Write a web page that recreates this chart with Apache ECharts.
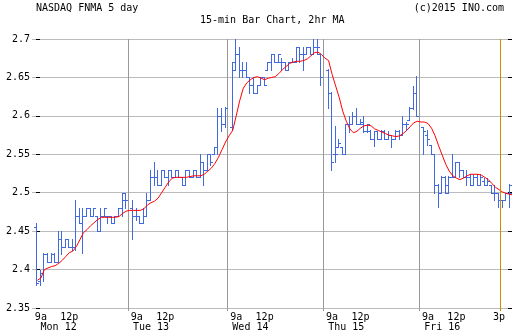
<!DOCTYPE html>
<html><head><meta charset="utf-8">
<script src="https://cdn.jsdelivr.net/npm/echarts@6/dist/echarts.min.js"></script>
<style>html,body{margin:0;padding:0;background:#fff}#c{width:512px;height:335px}</style>
</head><body><div id="c"></div>
<script>
// ---- data ----
const days = ['Mon 12', 'Tue 13', 'Wed 14', 'Thu 15', 'Fri 16'];
const slotsPerDay = [27, 28, 27, 27, 27];
const timeLabels = ['9a', '12p'];
const lastTimeLabel = '3p';
const yMin = 2.35, yMax = 2.7, yStep = 0.05;

// [open, high, low, close] per 15-min slot (null = empty slot)
const monOHLC = [null,
 [2.455,2.461,2.380,2.382],[2.385,2.400,2.380,2.395],[2.395,2.421,2.385,2.420],[2.420,2.421,2.410,2.410],
 [2.410,2.421,2.410,2.420],[2.420,2.421,2.410,2.410],[2.410,2.450,2.410,2.440],[2.440,2.450,2.420,2.430],
 [2.430,2.440,2.430,2.440],[2.440,2.440,2.430,2.430],[2.430,2.440,2.426,2.430],[2.430,2.491,2.426,2.470],
 [2.470,2.480,2.460,2.460],[2.460,2.480,2.421,2.470],[2.470,2.480,2.470,2.480],[2.480,2.480,2.470,2.470],
 [2.470,2.480,2.470,2.480],[2.470,2.470,2.450,2.450],[2.450,2.480,2.450,2.470],[2.470,2.480,2.470,2.480],
 [2.470,2.470,2.460,2.470],[2.470,2.470,2.460,2.460],[2.460,2.470,2.460,2.470],[2.470,2.480,2.470,2.480],
 [2.480,2.500,2.470,2.500],[2.490,2.500,2.480,2.490]];
const tueOHLC = [null,
 [2.480,2.491,2.440,2.470],[2.470,2.480,2.465,2.470],[2.470,2.470,2.460,2.460],[2.460,2.480,2.460,2.470],
 [2.470,2.500,2.470,2.490],[2.490,2.530,2.490,2.520],[2.520,2.540,2.510,2.520],[2.520,2.530,2.510,2.510],
 [2.510,2.530,2.510,2.530],[2.530,2.530,2.520,2.520],[2.520,2.530,2.510,2.530],[2.530,2.530,2.520,2.520],
 [2.520,2.530,2.520,2.530],[2.530,2.530,2.520,2.520],[2.520,2.520,2.510,2.510],[2.510,2.530,2.510,2.530],
 [2.530,2.530,2.520,2.520],[2.520,2.530,2.520,2.530],[2.530,2.530,2.520,2.520],[2.520,2.550,2.520,2.540],
 [2.540,2.540,2.510,2.530],[2.530,2.550,2.530,2.550],[2.550,2.550,2.536,2.540],[2.550,2.560,2.550,2.560],
 [2.560,2.610,2.550,2.600],[2.600,2.610,2.580,2.590],[2.590,2.612,2.585,2.610]];
const wedOHLC = [null,
 [2.585,2.670,2.581,2.670],[2.660,2.700,2.660,2.680],[2.680,2.690,2.650,2.660],[2.660,2.670,2.650,2.660],
 [2.660,2.670,2.650,2.650],[2.650,2.650,2.630,2.640],[2.640,2.650,2.630,2.630],[2.630,2.640,2.630,2.640],
 [2.640,2.650,2.640,2.650],[2.650,2.650,2.640,2.640],[2.660,2.670,2.660,2.670],[2.670,2.680,2.660,2.680],
 [2.680,2.680,2.670,2.670],[2.670,2.680,2.670,2.680],[2.670,2.675,2.660,2.670],[2.670,2.670,2.660,2.660],
 [2.660,2.670,2.660,2.670],[2.670,2.675,2.670,2.670],[2.670,2.690,2.670,2.690],[2.690,2.690,2.670,2.680],
 [2.680,2.690,2.660,2.680],[2.680,2.690,2.680,2.690],[2.690,2.690,2.680,2.680],[2.680,2.700,2.680,2.690],
 [2.690,2.700,2.680,2.690],[2.680,2.680,2.640,2.650]];
const thuOHLC = [null,
 [2.660,2.661,2.610,2.630],[2.630,2.631,2.529,2.540],[2.550,2.587,2.540,2.550],[2.560,2.570,2.559,2.565],
 [2.560,2.560,2.550,2.550],[2.550,2.590,2.550,2.590],[2.590,2.600,2.579,2.590],[2.590,2.605,2.590,2.600],
 [2.600,2.610,2.590,2.590],[2.590,2.596,2.590,2.592],[2.590,2.600,2.579,2.580],[2.580,2.590,2.579,2.590],
 [2.580,2.581,2.570,2.570],[2.570,2.580,2.561,2.580],[2.580,2.580,2.570,2.570],[2.570,2.581,2.570,2.580],
 [2.580,2.581,2.570,2.570],[2.570,2.580,2.570,2.575],[2.575,2.575,2.559,2.570],[2.570,2.581,2.570,2.580],
 [2.580,2.581,2.570,2.575],[2.575,2.600,2.575,2.590],[2.590,2.592,2.581,2.590],[2.594,2.611,2.594,2.610],
 [2.610,2.639,2.609,2.630],[2.630,2.652,2.600,2.600]];
const friOHLC = [null,
 [2.585,2.586,2.550,2.580],[2.575,2.581,2.562,2.570],[2.562,2.562,2.550,2.550],[2.550,2.550,2.500,2.510],
 [2.510,2.511,2.481,2.500],[2.500,2.522,2.500,2.520],[2.520,2.522,2.500,2.510],[2.500,2.522,2.500,2.520],
 [2.520,2.550,2.520,2.520],[2.520,2.540,2.520,2.540],[2.540,2.540,2.520,2.530],[2.530,2.530,2.520,2.520],
 [2.520,2.530,2.510,2.520],[2.520,2.524,2.510,2.510],[2.510,2.524,2.510,2.520],[2.520,2.524,2.510,2.510],
 [2.510,2.524,2.510,2.520],[2.515,2.519,2.510,2.510],[2.510,2.519,2.510,2.515],[2.510,2.510,2.500,2.500],
 [2.500,2.510,2.491,2.500],[2.500,2.500,2.481,2.490],[2.490,2.491,2.481,2.490],[2.490,2.500,2.491,2.500],
 [2.500,2.511,2.481,2.510],[2.500,2.522,2.491,2.510]];

// 2hr moving average, one value per slot
const ma2hr = [null,
 2.386,2.389,2.400,2.402,2.404,2.405,2.408,2.412,2.417,2.422,2.424,2.430,2.439,2.448,2.452,2.457,2.461,2.465,2.468,2.468,2.468,2.468,2.468,2.469,2.473,2.476,
 2.477,
 2.477,2.477,2.477,2.479,2.484,2.487,2.489,2.493,2.500,2.507,2.514,2.519,2.520,2.520,2.520,2.520,2.521,2.522,2.522,2.522,2.524,2.528,2.532,2.538,2.546,2.556,2.566,
 2.574,
 2.581,2.600,2.620,2.636,2.643,2.647,2.650,2.651,2.649,2.647,2.649,2.650,2.651,2.655,2.660,2.664,2.668,2.670,2.671,2.671,2.672,2.674,2.678,2.682,2.683,2.680,
 2.675,
 2.672,2.654,2.639,2.624,2.606,2.593,2.583,2.578,2.580,2.584,2.587,2.588,2.587,2.583,2.581,2.579,2.577,2.575,2.574,2.573,2.574,2.577,2.581,2.586,2.591,2.593,
 2.592,
 2.592,2.590,2.584,2.574,2.561,2.549,2.537,2.528,2.522,2.519,2.517,2.519,2.522,2.524,2.524,2.524,2.523,2.520,2.517,2.512,2.507,2.504,2.501,2.499,2.498,2.497];

// ---- build ----
const categories = [], dayStart = [];
days.forEach((d, i) => {
  dayStart.push(categories.length);
  for (let k = 0; k < slotsPerDay[i]; k++) {
    const m = 9 * 60 + 15 + 15 * k;
    categories.push(d + ' ' + Math.floor(m / 60) + ':' + String(m % 60).padStart(2, '0'));
  }
});
const ohlc = [].concat(monOHLC, tueOHLC, wedOHLC, thuOHLC, friOHLC);
const barData = [];
ohlc.forEach((r, i) => { if (r) barData.push([i, r[0], r[1], r[2], r[3]]); });

const timeMap = {}, dayMap = {};
dayStart.forEach((s, i) => {
  timeMap[s + 2] = timeLabels[0];
  timeMap[s + 10] = timeLabels[1];
  dayMap[s + (i === 0 ? 7 : 6)] = days[i];
});
const nowIndex = dayStart[4] + 22;
timeMap[nowIndex] = lastTimeLabel;

const FONT = 'DejaVu Sans Mono';
const txt = { fontFamily: FONT, fontSize: 10, color: '#000', fontWeight: 'normal' };

function renderItem(params, api) {
  const x = api.value(0);
  const pO = api.coord([x, api.value(1)]);
  const pH = api.coord([x, api.value(2)]);
  const pL = api.coord([x, api.value(3)]);
  const pC = api.coord([x, api.value(4)]);
  const cx = Math.round(pH[0]) - 0.5;
  const ry = v => Math.round(v) + 0.5;
  const st = { stroke: '#4169e1', lineWidth: 1 };
  return { type: 'group', children: [
    { type: 'line', shape: { x1: cx, y1: Math.round(pH[1]), x2: cx, y2: Math.round(pL[1]) + 1 }, style: st },
    { type: 'line', shape: { x1: cx - 2.5, y1: ry(pO[1]), x2: cx, y2: ry(pO[1]) }, style: st },
    { type: 'line', shape: { x1: cx, y1: ry(pC[1]), x2: cx + 2.5, y2: ry(pC[1]) }, style: st }
  ]};
}

// "now" marker: vertical line at the right edge of the 3p slot
function renderNow(params, api) {
  const x = api.value(0);
  const top = api.coord([x, yMax]);
  const bot = api.coord([x, yMin]);
  const band = api.size([1, 0])[0];
  const cx = Math.floor(top[0] + band / 2) + 0.5;
  return { type: 'line', shape: { x1: cx, y1: Math.round(top[1]), x2: cx, y2: Math.round(bot[1]) + 3 },
    style: { stroke: '#cc8c00', lineWidth: 1 } };
}

const lbl = { fontFamily: FONT, fontSize: 10, color: '#000', lineHeight: 10,
  showMinLabel: true, showMaxLabel: true, hideOverlap: false };

const chart = echarts.init(document.getElementById('c'), null, { renderer: 'canvas' });
chart.setOption({
  animation: false,
  backgroundColor: '#fff',
  title: [
    { text: 'NASDAQ FNMA 5 day', left: 36, top: 3, padding: 0, textStyle: txt },
    { text: '15-min Bar Chart, 2hr MA', left: 200, top: 15, padding: 0, textStyle: txt },
    { text: '(c)2015 INO.com', right: 8, top: 3, padding: 0, textStyle: txt }
  ],
  grid: { left: 32, width: 483, top: 39, height: 269, containLabel: false, outerBoundsMode: 'none' },
  xAxis: [{
    type: 'category', data: categories, boundaryGap: true,
    axisLine: { show: false },
    axisTick: { show: true, length: 3, interval: (i) => dayStart.indexOf(i) > 0, lineStyle: { color: '#999' } },
    splitLine: { show: true, interval: (i) => dayStart.indexOf(i) > 0, lineStyle: { color: '#999', width: 1 } },
    axisLabel: Object.assign({
      interval: (i) => timeMap[i] !== undefined,
      formatter: (v, i) => timeMap[i] || '', margin: 4 }, lbl)
  }, {
    type: 'category', data: categories, boundaryGap: true, position: 'bottom',
    axisLine: { show: false }, axisTick: { show: false }, splitLine: { show: false },
    axisLabel: Object.assign({
      interval: (i) => dayMap[i] !== undefined,
      formatter: (v, i) => dayMap[i] || '', margin: 14 }, lbl)
  }],
  yAxis: [{
    type: 'value', min: yMin, max: yMax, interval: yStep, position: 'left', offset: -4,
    axisLine: { show: false },
    axisTick: { show: true, inside: true, length: 4, lineStyle: { color: '#000' } },
    splitLine: { show: true, lineStyle: { color: '#bbb', width: 1 } },
    axisLabel: { fontFamily: FONT, fontSize: 10, color: '#000', margin: 6 }
  }, {
    type: 'value', min: yMin, max: yMax, interval: yStep, position: 'right',
    axisLine: { show: false },
    axisTick: { show: true, inside: true, length: 7, lineStyle: { color: '#000' } },
    splitLine: { show: false }, axisLabel: { show: false }
  }],
  series: [{
    type: 'custom', renderItem: renderItem, data: barData,
    encode: { x: 0, y: [1, 2, 3, 4] }, z: 3
  }, {
    type: 'custom', renderItem: renderNow, data: [[nowIndex]],
    encode: { x: 0 }, z: 5, clip: false, silent: true
  }, {
    type: 'line', data: ma2hr, showSymbol: false, symbol: 'none',
    lineStyle: { color: '#ff0000', width: 1 }, z: 4, connectNulls: false
  }]
});
</script>
</body></html>
